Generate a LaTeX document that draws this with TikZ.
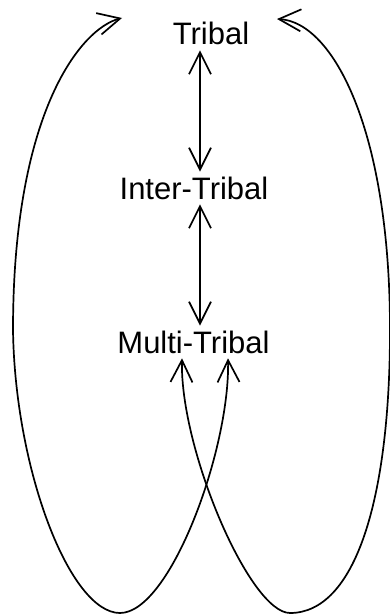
\documentclass[tikz,border=0pt]{standalone}
\usepackage{fontspec}
\setmainfont{Liberation Sans}
\usetikzlibrary{arrows.meta}
\begin{document}
\begin{tikzpicture}[x=1pt,y=-1pt,
  label/.style={inner sep=0pt,outer sep=5pt,anchor=base,
    font=\fontsize{31}{37}\selectfont},
  link/.style={line width=1.7pt,
    {Straight Barb[length=22pt,width=22pt,line width=1.7pt]}-{Straight Barb[length=22pt,width=22pt,line width=1.7pt]}}]
\useasboundingbox (0,0) rectangle (389,615);

% levels
\node[label] (t) at (211,45) {Tribal};
\node[label] (i) at (194,199) {Inter-Tribal};
\node[label] (m) at (193.5,353) {Multi-Tribal};

% vertical axis and curve end points
\coordinate (ax) at (200,0);
\coordinate (tl) at (122,18);
\coordinate (tr) at (277,19);
\coordinate (ml) at (182,0);
\coordinate (mr) at (228,0);

% links between neighbouring levels
\draw[link] (t.south -| ax) -- (i.north -| ax);
\draw[link] (i.south -| ax) -- (m.north -| ax);

% loops from Multi-Tribal back up to Tribal
\draw[link] (tl) .. controls (82,28) and (13,110) .. (13,330)
  .. controls (15,470) and (70,613) .. (120,613)
  .. controls (170,613) and (230,450) .. (m.south -| mr);
\draw[link] (tr) .. controls (333,22) and (390,130) .. (390,330)
  .. controls (390,500) and (355,613) .. (290,613)
  .. controls (250,613) and (180,450) .. (m.south -| ml);
\end{tikzpicture}
\end{document}
